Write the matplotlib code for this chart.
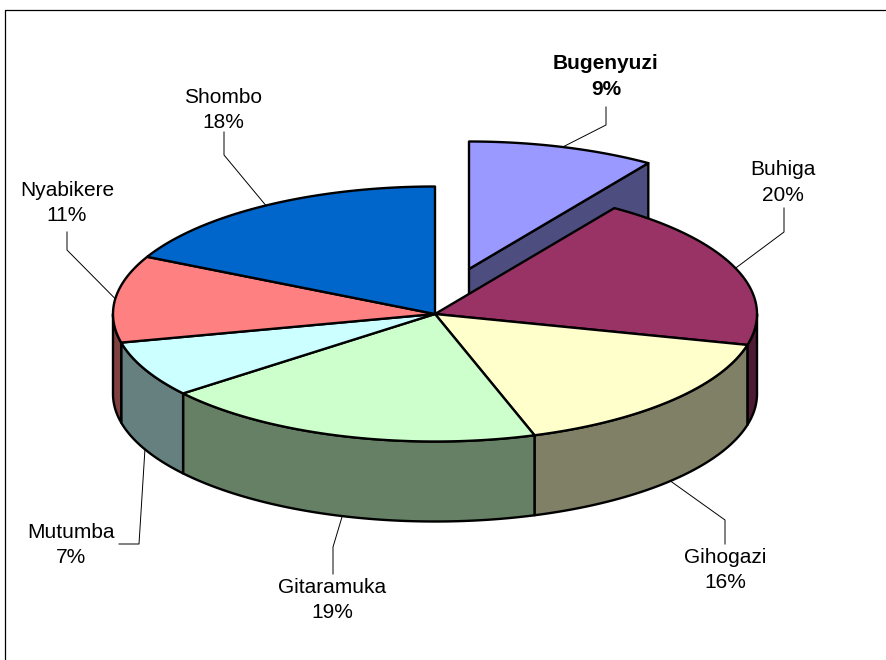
# 3D style exploded pie chart, drawn on one full-figure axes in pixel units
import numpy as np
import matplotlib
matplotlib.use('Agg')
import matplotlib.pyplot as plt
from matplotlib.patches import Polygon

# chart data, shares estimated from the slice edges (labels show them rounded)
labels = ['Bugenyuzi', 'Buhiga', 'Gihogazi', 'Gitaramuka', 'Mutumba', 'Nyabikere', 'Shombo']
values = [9.4, 19.5, 16.1, 19.3, 7.1, 11.0, 17.6]
top_colors = ['#9999FF', '#993366', '#FFFFCC', '#CCFFCC', '#CCFFFF', '#FF8080', '#0066CC']
side_colors = ['#4D4D80', '#4D1A33', '#808066', '#668066', '#668080', '#804040', '#003366']

# layout of the pie
cx, cy = 435, 314
rx, ry = 322, 127.5
depth = 80
explode = (34, -45)

# where the labels sit and where their leader lines bend
label_pos = [(606, 76.5), (783, 182.5), (725, 570), (332, 600), (71, 545), (67, 203), (223, 110)]
bends = [
    [(606, 125), (606, 107)],
    [(784, 232), (784, 208)],
    [(725, 520), (725, 544)],
    [(333, 547), (333, 574)],
    [(139, 544), (119, 544)],
    [(67, 250), (67, 232)],
    [(224, 155), (224, 132)],
]

plt.rcParams['font.family'] = ['Liberation Sans', 'DejaVu Sans']

fig = plt.figure(figsize=(8.86, 6.6), dpi=100)
ax = fig.add_axes([0, 0, 1, 1])
ax.set_xlim(0, 886)
ax.set_ylim(660, 0)
ax.axis('off')


def rim(deg, ox=cx, oy=cy, drop=0):
    # angle is clockwise from 12 o'clock
    a = np.radians(deg)
    return np.column_stack([ox + rx * np.sin(a), oy - ry * np.cos(a) + drop])


def arc(a0, a1, **kw):
    n = max(int(abs(a1 - a0)) * 2, 2)
    return rim(np.linspace(a0, a1, n), **kw)


def poly(pts, color):
    ax.add_patch(Polygon(pts, closed=True, facecolor=color, edgecolor='black',
                         linewidth=1.7, joinstyle='round'))


# chart frame, open on the right and the bottom
ax.plot([5, 5, 886], [660, 9.5, 9.5], color='black', linewidth=0.9)

edges = np.cumsum([0] + values) * 3.6
mids = (edges[:-1] + edges[1:]) / 2

# exploded slice goes first, it sits behind the rest
ox, oy = cx + explode[0], cy + explode[1]
end = rim(edges[1], ox, oy)[0]
poly([(ox, oy), end, end + (0, depth), (ox, oy + depth)], side_colors[0])
poly(np.vstack([[(ox, oy)], arc(edges[0], edges[1], ox=ox, oy=oy)]), top_colors[0])

# outer wall, only the front half of the rim shows
for i in range(1, len(values)):
    a0, a1 = max(edges[i], 90), min(edges[i + 1], 270)
    if a0 < a1:
        poly(np.vstack([arc(a0, a1), arc(a1, a0, drop=depth)]), side_colors[i])

# top faces
for i in range(1, len(values)):
    poly(np.vstack([[(cx, cy)], arc(edges[i], edges[i + 1])]), top_colors[i])

# labels and leader lines
for i, name in enumerate(labels):
    if i == 0:
        start = rim(mids[i], ox, oy)[0]
    elif 90 < mids[i] < 270:
        start = rim(mids[i], drop=depth)[0]
    else:
        start = rim(mids[i])[0]
    xs = [start[0]] + [p[0] for p in bends[i]]
    ys = [start[1]] + [p[1] for p in bends[i]]
    ax.plot(xs, ys, color='black', linewidth=0.7)
    ax.text(label_pos[i][0], label_pos[i][1], f'{name}\n{values[i]:.0f}%', ha='center', va='center',
            fontsize=15, linespacing=1.43, color='black',
            fontweight='bold' if i == 0 else 'normal')

fig.savefig('out.png', dpi=100)
